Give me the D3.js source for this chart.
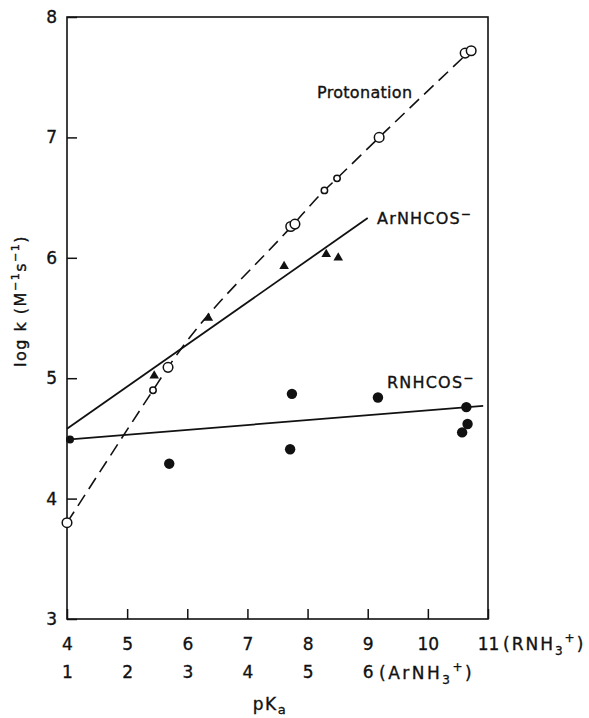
<!DOCTYPE html>
<html>
<head>
<meta charset="utf-8">
<script src="https://cdn.jsdelivr.net/npm/d3@7"></script>
<style>
  body { margin: 0; background: white; }
  svg text { font-family: "DejaVu Sans", sans-serif; fill: #111; stroke: #111; stroke-width: 0.35; }
  .axis path { stroke: none; }
  .axis line { stroke: #111; stroke-width: 1.5; }
</style>
</head>
<body>
<svg width="589" height="718"></svg>
<script>
// pKa (RNH3+ scale) and log k values
const protonX = [4.0, 5.43, 5.68, 7.72, 7.79, 8.28, 8.49, 9.19, 10.62, 10.72];
const protonY = [3.80, 4.90, 5.09, 6.26, 6.28, 6.56, 6.66, 7.00, 7.70, 7.72];
const protonSmall = [false, true, false, false, false, true, true, false, false, false];

const arX = [5.45, 6.35, 7.61, 8.31, 8.51];
const arY = [5.02, 5.50, 5.93, 6.03, 6.00];

const rX = [4.05, 5.70, 7.74, 7.71, 9.17, 10.64, 10.57, 10.66];
const rY = [4.49, 4.29, 4.87, 4.41, 4.84, 4.76, 4.55, 4.62];

// drawn curves
const protonCurveX = [4.0, 5.43, 5.68, 7.75, 8.28, 8.49, 9.19, 10.62];
const protonCurveY = [3.80, 4.90, 5.09, 6.27, 6.56, 6.66, 7.00, 7.68];
const arLine = [[4.0, 4.58], [9.0, 6.33]];
const rLine = [[4.0, 4.49], [10.92, 4.77]];

const xTicks = [4, 5, 6, 7, 8, 9, 10, 11];
const arTicks = [1, 2, 3, 4, 5, 6];
const yTicks = [3, 4, 5, 6, 7, 8];

let svg = d3.select("svg");

let x = d3.scaleLinear().domain([4, 11]).range([67, 488]);
let y = d3.scaleLinear().domain([3, 8]).range([619, 17]);

// frame
svg.append("rect")
    .attr("x", x(4)).attr("y", y(8))
    .attr("width", x(11) - x(4)).attr("height", y(3) - y(8))
    .attr("fill", "none").attr("stroke", "#111").attr("stroke-width", 1.6);

// axes, ticks pointing inward
svg.append("g").attr("class", "axis")
    .attr("transform", "translate(0," + y(3) + ")")
    .call(d3.axisBottom(x).tickValues(xTicks).tickSizeInner(-10).tickSizeOuter(0)
        .tickPadding(19).tickFormat(d3.format("d")))
    .selectAll("text").attr("font-size", 17).attr("fill", "#111");

svg.append("g").attr("class", "axis")
    .attr("transform", "translate(0," + y(3) + ")")
    .call(d3.axisBottom(x).tickValues(arTicks.map(d => d + 3)).tickSize(0)
        .tickPadding(47).tickFormat(d => d - 3))
    .selectAll("text").attr("font-size", 17).attr("fill", "#111");

svg.append("g").attr("class", "axis")
    .attr("transform", "translate(" + x(4) + ",0)")
    .call(d3.axisLeft(y).tickValues(yTicks).tickSizeInner(-10).tickSizeOuter(0)
        .tickPadding(10).tickFormat(d3.format("d")))
    .selectAll("text").attr("font-size", 17).attr("fill", "#111");

// scale names next to the last tick labels
let rLab = svg.append("text").attr("x", 503).attr("y", 650).attr("font-size", 17)
    .attr("letter-spacing", 2);
rLab.append("tspan").text("(RNH");
rLab.append("tspan").attr("font-size", 12).attr("dy", 5).text("3");
rLab.append("tspan").attr("font-size", 12).attr("dy", -13).text("+");
rLab.append("tspan").attr("dy", 8).text(")");

let aLab = svg.append("text").attr("x", 379).attr("y", 679).attr("font-size", 17)
    .attr("letter-spacing", 2.5);
aLab.append("tspan").text("(ArNH");
aLab.append("tspan").attr("font-size", 12).attr("dy", 5).text("3");
aLab.append("tspan").attr("font-size", 12).attr("dy", -13).text("+");
aLab.append("tspan").attr("dy", 8).text(")");

// x title
let xt = svg.append("text").attr("x", 270).attr("y", 710).attr("font-size", 17)
    .attr("text-anchor", "middle").attr("letter-spacing", 1.5);
xt.append("tspan").text("pK");
xt.append("tspan").attr("font-size", 13).attr("dy", 4).text("a");

// y title
let yt = svg.append("text").attr("transform", "translate(26,301) rotate(-90)")
    .attr("font-size", 16).attr("text-anchor", "middle").attr("letter-spacing", 1.5);
yt.append("tspan").text("log k (M");
yt.append("tspan").attr("font-size", 11).attr("dy", -7).text("−1");
yt.append("tspan").attr("dy", 7).text("s");
yt.append("tspan").attr("font-size", 11).attr("dy", -7).text("−1");
yt.append("tspan").attr("dy", 7).text(")");

// lines
let line = d3.line().x(d => x(d[0])).y(d => y(d[1]));
let curve = d3.line().x(d => x(d[0])).y(d => y(d[1])).curve(d3.curveMonotoneX);

svg.append("path").datum(protonCurveX.map((d, i) => [d, protonCurveY[i]])).attr("d", curve)
    .attr("fill", "none").attr("stroke", "#111").attr("stroke-width", 1.6)
    .attr("stroke-dasharray", "13,7");
svg.append("path").datum(arLine).attr("d", line)
    .attr("fill", "none").attr("stroke", "#111").attr("stroke-width", 1.8);
svg.append("path").datum(rLine).attr("d", line)
    .attr("fill", "none").attr("stroke", "#111").attr("stroke-width", 1.8);

// protonation points: open circles
svg.selectAll(".proton")
    .data(protonX.map((d, i) => ({x: d, y: protonY[i], small: protonSmall[i]})))
    .enter().append("circle")
    .attr("class", "proton")
    .attr("cx", d => x(d.x)).attr("cy", d => y(d.y))
    .attr("r", d => d.small ? 3.2 : 4.8)
    .attr("fill", "white").attr("stroke", "#111").attr("stroke-width", 1.5);

// ArNHCOS- points: filled triangles
let tri = d3.symbol().type(d3.symbolTriangle).size(40);
svg.selectAll(".ar")
    .data(arX.map((d, i) => ({x: d, y: arY[i]})))
    .enter().append("path")
    .attr("class", "ar")
    .attr("transform", d => "translate(" + x(d.x) + "," + y(d.y) + ")")
    .attr("d", tri)
    .attr("fill", "#111");

// RNHCOS- points: filled circles
svg.selectAll(".rn")
    .data(rX.map((d, i) => ({x: d, y: rY[i]})))
    .enter().append("circle")
    .attr("class", "rn")
    .attr("cx", d => x(d.x)).attr("cy", d => y(d.y))
    .attr("r", (d, i) => i === 0 ? 4 : 5.2)
    .attr("fill", "#111");

// series labels
svg.append("text").attr("x", 317).attr("y", 98).attr("font-size", 16)
    .attr("letter-spacing", 0.3).text("Protonation");

let arT = svg.append("text").attr("x", 377).attr("y", 224).attr("font-size", 16)
    .attr("letter-spacing", 1.2);
arT.append("tspan").text("ArNHCOS");
arT.append("tspan").attr("font-size", 12).attr("dy", -6).text("−");

let rT = svg.append("text").attr("x", 387).attr("y", 388).attr("font-size", 16)
    .attr("letter-spacing", 1.2);
rT.append("tspan").text("RNHCOS");
rT.append("tspan").attr("font-size", 12).attr("dy", -6).text("−");
</script>
</body>
</html>
